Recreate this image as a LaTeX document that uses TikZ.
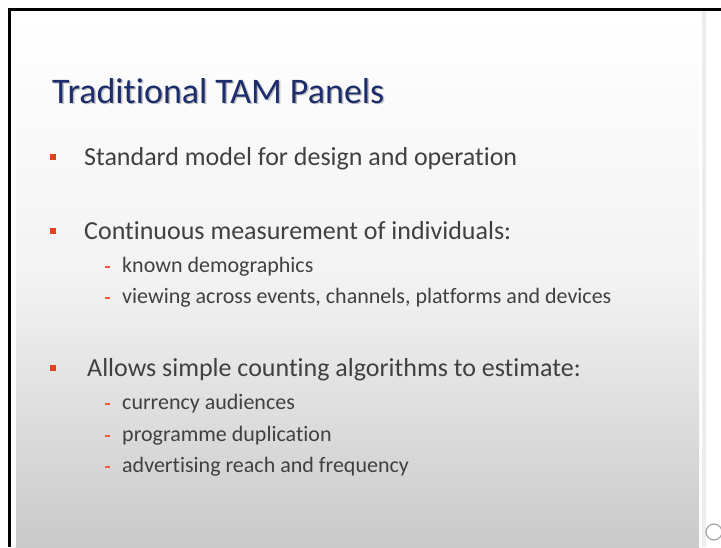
\documentclass[tikz,border=0pt]{standalone}
\usepackage{fontspec}
\setmainfont[Ligatures=NoCommon]{Carlito}
\begin{document}
\begin{tikzpicture}[x=1pt, y=-1pt,
	body/.style={anchor=base west, inner sep=0pt, text=textgrey, font=\fontsize{26}{31}\selectfont},
	subitem/.style={anchor=base west, inner sep=0pt, text=textgrey, font=\fontsize{22}{26}\selectfont},
	sqbullet/.style={fill=bulletred, minimum size=5.5pt, inner sep=0pt},
	dashbullet/.style={fill=bulletred!85, minimum width=4.5pt, minimum height=1.4pt, inner sep=0pt}]
		\definecolor{textgrey}{HTML}{404040}
		\definecolor{titleblue}{HTML}{1C2C6C}
		\definecolor{bulletred}{HTML}{E8401C}
		\useasboundingbox (0,0) rectangle (721,547);
		\fill[white] (0,0) rectangle (721,547);
		% slide
		\shade[top color=white, bottom color=black!21, middle color=black!5] (16,11) rectangle (699,547);
		\fill[black!7] (702,11) rectangle (706,547);
		\draw[black, line width=3pt] (9,547) -- (9,9) -- (721,9);
		\draw[black!35, line width=1.2pt, fill=white] (714,532) circle (8);
		% title
		\node[anchor=base west, inner sep=0pt, text=black!25, font=\fontsize{36}{43}\selectfont] at (53.5,104.5) {Traditional TAM Panels};
		\node (title) [anchor=base west, inner sep=0pt, text=titleblue, font=\fontsize{36}{43}\selectfont] at (52,103) {Traditional TAM Panels};
		% bullets
		\node (b1) [body] at (84,165) {Standard model for design and operation};
		\node (b2) [body] at (84,239) {Continuous measurement of individuals:};
		\node (b2a) [subitem] at (122,272) {known demographics};
		\node (b2b) [subitem] at (122,303) {viewing across events, channels, platforms and devices};
		\node (b3) [body] at (87,376) {Allows simple counting algorithms to estimate:};
		\node (b3a) [subitem] at (122,409) {currency audiences};
		\node (b3b) [subitem] at (122,441) {programme duplication};
		\node (b3c) [subitem] at (122,472) {advertising reach and frequency};
		\foreach \y in {157,231,368}
			\node[sqbullet] at (53,\y) {};
		\foreach \y in {267,298,404,436,467}
			\node[dashbullet] at (107.5,\y) {};
\end{tikzpicture}
\end{document}
